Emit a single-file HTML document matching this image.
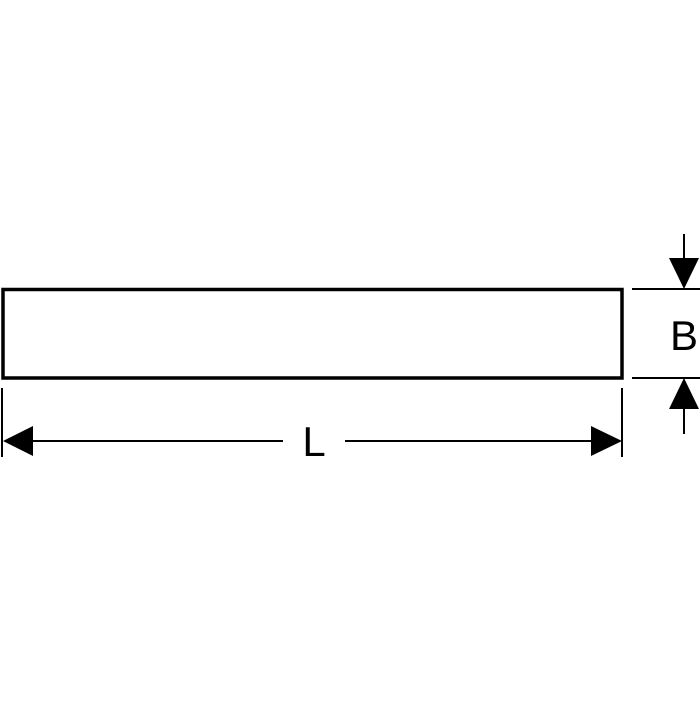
<!DOCTYPE html>
<html><head><style>html,body{margin:0;padding:0;background:#fff;}</style></head>
<body>
<svg width="700" height="700" viewBox="0 0 700 700" xmlns="http://www.w3.org/2000/svg">
<rect width="700" height="700" fill="#fff"/>
<rect x="3" y="289.5" width="619" height="88.5" fill="none" stroke="#000" stroke-width="3.5"/>
<g stroke="#000" stroke-width="2">
<line x1="2" y1="388" x2="2" y2="457"/>
<line x1="622" y1="388" x2="622" y2="457"/>
<line x1="30" y1="441" x2="283" y2="441"/>
<line x1="345" y1="441" x2="594" y2="441"/>
<line x1="632" y1="289" x2="700" y2="289"/>
<line x1="632" y1="378" x2="700" y2="378"/>
<line x1="684" y1="234" x2="684" y2="262"/>
<line x1="684" y1="405" x2="684" y2="434"/>
</g>
<polygon points="3,441 33,426 33,456" fill="#000"/>
<polygon points="622,441 591,426 591,456" fill="#000"/>
<polygon points="684,289 669,258 699,258" fill="#000"/>
<polygon points="684,378 669,409 699,409" fill="#000"/>
<text x="314" y="456" font-family="Liberation Sans, sans-serif" font-size="42" text-anchor="middle" fill="#000">L</text>
<text x="684" y="350" font-family="Liberation Sans, sans-serif" font-size="42" text-anchor="middle" fill="#000">B</text>
</svg>
</body></html>
